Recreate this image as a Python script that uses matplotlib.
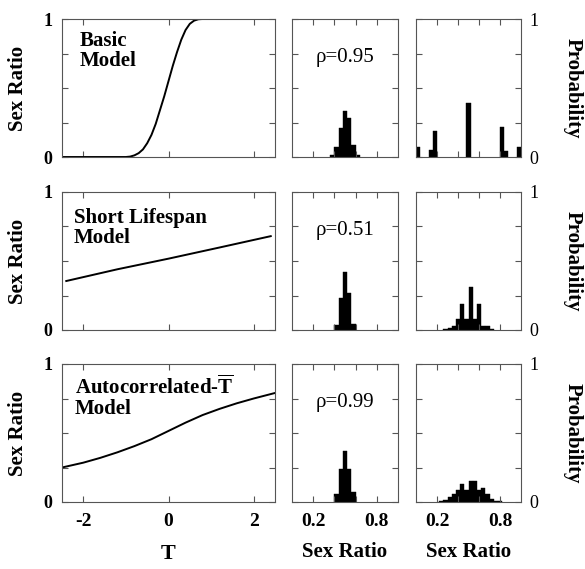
import numpy as np
import matplotlib
matplotlib.use('Agg')
import matplotlib.pyplot as plt

plt.rcParams['font.family'] = ['Liberation Serif', 'DejaVu Serif']
plt.rcParams['mathtext.fontset'] = 'custom'
plt.rcParams['mathtext.rm'] = 'Liberation Serif:bold'
plt.rcParams['mathtext.bf'] = 'Liberation Serif:bold'

# ---- curves (T vs sex ratio)
T_basic = [-2.5, -1.0, -0.9, -0.8, -0.7, -0.6, -0.5, -0.4, -0.3, -0.2, -0.1,
           0.0, 0.1, 0.2, 0.3, 0.4, 0.5, 0.6, 0.7, 0.8, 2.5]
sr_basic = [0.0, 0.0, 0.003, 0.012, 0.028, 0.055, 0.10, 0.16, 0.24, 0.34, 0.44,
            0.55, 0.66, 0.76, 0.85, 0.92, 0.965, 0.988, 0.998, 1.0, 1.0]

T_short = [-2.4, -1.2, 0.0, 1.2, 2.4]
sr_short = [0.355, 0.44, 0.517, 0.598, 0.68]

T_auto = [-2.5, -2.0, -1.6, -1.2, -0.8, -0.4, 0.0, 0.4, 0.8, 1.2, 1.6, 2.0, 2.5]
sr_auto = [0.25, 0.285, 0.32, 0.36, 0.405, 0.455, 0.515, 0.575, 0.63, 0.675, 0.715, 0.75, 0.79]

# ---- histograms (bin left edge, probability), bin width 0.04
bin_w = 0.04
h1_edges = [0.36, 0.40, 0.44, 0.48, 0.52, 0.56, 0.60]
h1_prob = [0.012, 0.07, 0.21, 0.33, 0.28, 0.085, 0.015]
h2_edges = [0.00, 0.12, 0.16, 0.48, 0.80, 0.84, 0.96]
h2_prob = [0.07, 0.05, 0.19, 0.39, 0.22, 0.04, 0.07]

h3_edges = [0.40, 0.44, 0.48, 0.52, 0.56]
h3_prob = [0.036, 0.235, 0.42, 0.27, 0.04]
h4_edges = [0.26, 0.30, 0.34, 0.38, 0.42, 0.46, 0.50, 0.54, 0.58, 0.62, 0.66, 0.70]
h4_prob = [0.01, 0.012, 0.03, 0.08, 0.19, 0.08, 0.31, 0.08, 0.19, 0.03, 0.03, 0.008]

h5_edges = [0.40, 0.44, 0.48, 0.52, 0.56]
h5_prob = [0.06, 0.24, 0.37, 0.24, 0.07]
h6_edges = [0.22, 0.26, 0.30, 0.34, 0.38, 0.42, 0.46, 0.50, 0.54, 0.58, 0.62,
            0.66, 0.70, 0.74, 0.78]
h6_prob = [0.005, 0.017, 0.036, 0.06, 0.09, 0.13, 0.085, 0.155, 0.155, 0.09, 0.10,
           0.06, 0.024, 0.01, 0.004]

model_names = ['Basic\nModel', 'Short Lifespan\nModel',
               'Autocorrelated-$\\overline{\\rm T}$\nModel']
rhos = ['\u03c1=0.95', '\u03c1=0.51', '\u03c1=0.99']

curves = [(T_basic, sr_basic), (T_short, sr_short), (T_auto, sr_auto)]
hists = [((h1_edges, h1_prob), (h2_edges, h2_prob)),
         ((h3_edges, h3_prob), (h4_edges, h4_prob)),
         ((h5_edges, h5_prob), (h6_edges, h6_prob))]

W, H = 585, 569
fig = plt.figure(figsize=(W / 100, H / 100), dpi=100)

row_top = [19, 192, 364]
row_h = 138
col_left = [(62, 213), (292, 106), (416, 105)]
name_pos = [(0.085, 0.915), (0.056, 0.885), (0.06, 0.915)]

spine_col = '#555555'


def px_axes(x, y, w, h):
    return fig.add_axes([x / W, 1 - (y + h) / H, w / W, h / H])


def style(ax):
    for s in ax.spines.values():
        s.set_color(spine_col)
        s.set_linewidth(0.8)
    ax.tick_params(direction='in', length=4, width=0.8, color=spine_col,
                   top=True, right=True, labelsize=13)
    for lab in ax.get_xticklabels() + ax.get_yticklabels():
        lab.set_fontweight('bold')


for r in range(3):
    y0 = row_top[r]
    bottom_row = (r == 2)

    # --- response curve
    x0, w0 = col_left[0]
    ax = px_axes(x0, y0, w0, row_h)
    T, sr = curves[r]
    ax.plot(T, sr, color='black', lw=1.4)
    ax.set_xlim(-2.5, 2.5)
    ax.set_ylim(0, 1)
    ax.set_xticks([-2, 0, 2])
    ax.set_xticklabels(['-2', '0', '2'] if bottom_row else ['', '', ''])
    ax.set_yticks([0, 0.25, 0.5, 0.75, 1])
    ax.set_yticklabels(['0', '', '', '', '1'])
    style(ax)
    ax.tick_params(axis='y', pad=7)
    ax.tick_params(axis='x', pad=8, labelsize=14)
    ax.text(name_pos[r][0], name_pos[r][1], model_names[r], transform=ax.transAxes,
            ha='left', va='top', fontsize=15, fontweight='bold', linespacing=1.0)
    ax.text(-0.207, 0.5, 'Sex Ratio', transform=ax.transAxes, rotation=90,
            ha='center', va='center', fontsize=15, fontweight='bold')
    if bottom_row:
        ax.text(0.5, -0.374, 'T', transform=ax.transAxes, ha='center',
                va='center', fontsize=16, fontweight='bold')

    # --- histograms
    for c in range(2):
        xc, wc = col_left[c + 1]
        axh = px_axes(xc, y0, wc, row_h)
        edges, prob = hists[r][c]
        axh.bar(edges, prob, width=bin_w, align='edge', color='black',
                edgecolor='black', linewidth=0.3)
        axh.set_xlim(0, 1)
        axh.set_ylim(0, 1)
        axh.set_xticks([0.2, 0.4, 0.6, 0.8])
        axh.set_xticklabels(['0.2', '', '', '0.8'] if bottom_row else ['', '', '', ''])
        axh.set_yticks([0, 0.25, 0.5, 0.75, 1])
        axh.set_yticklabels(['0', '', '', '', '1'] if c == 1 else [''] * 5)
        style(axh)
        axh.tick_params(axis='x', pad=8, labelsize=14)
        if c == 1:
            axh.tick_params(axis='y', labelleft=False, labelright=True, pad=6)
            axh.text(1.495, 0.5, 'Probability', transform=axh.transAxes,
                     rotation=-90, ha='center', va='center', fontsize=15,
                     fontweight='bold')
        else:
            axh.text(0.5, 0.72, rhos[r], transform=axh.transAxes, ha='center',
                     va='center', fontsize=15)
        if bottom_row:
            axh.text(0.5, -0.36, 'Sex Ratio', transform=axh.transAxes,
                     ha='center', va='center', fontsize=15, fontweight='bold')

fig.savefig('out.png', dpi=100)
